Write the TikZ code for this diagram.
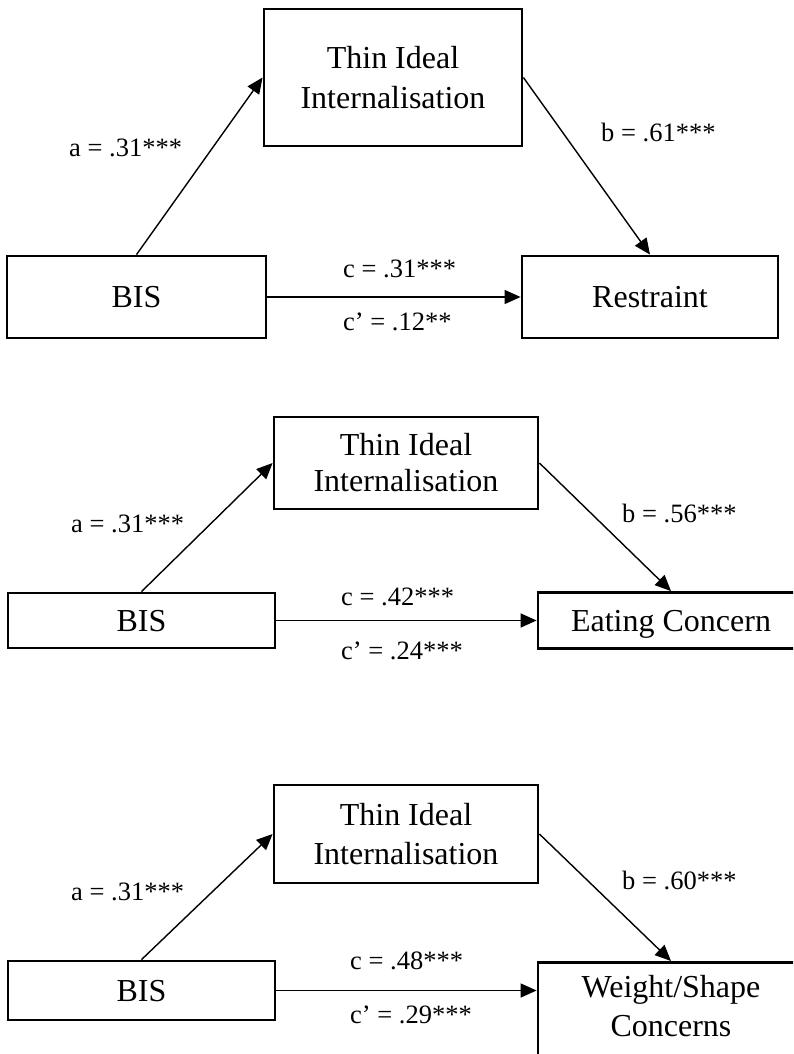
\documentclass[tikz,border=0pt]{standalone}
\usepackage{fontspec}
\setmainfont{Liberation Serif}
\usetikzlibrary{arrows.meta}
\begin{document}
\begin{tikzpicture}[x=1pt,y=-1pt,
  box/.style={draw, line width=2.8pt, inner sep=0pt, align=center,
              font=\fontsize{32}{39}\selectfont},
  oneline/.style={text height=21pt, text depth=0pt},
  coef/.style={anchor=base west, inner sep=0pt,
               font=\fontsize{26.5}{30}\selectfont},
  link/.style={line width=1.4pt, -{Triangle[length=16pt,width=14pt]}}
]
\useasboundingbox (0,0) rectangle (793,1054);
\fill[white] (0,0) rectangle (793,1054);
\clip (0,0) rectangle (793,1054);

% ---------- Restraint model ----------
\node[box, minimum width=258pt, minimum height=137pt,
      font=\fontsize{32}{40}\selectfont] (thin1) at (393,77.5)
      {Thin Ideal\\Internalisation};
\node[box, oneline, minimum width=259pt, minimum height=82pt] (bis1) at (136.5,297) {BIS};
\node[box, oneline, minimum width=256pt, minimum height=82pt] (res1) at (650,297) {Restraint};
\draw[link] (bis1.north) -- (thin1.west);
\draw[link] (thin1.east) -- (res1.north);
\draw[link] (bis1.east) -- (res1.west);
\node[coef] (a1) at (69,157) {a = .31***};
\node[coef] (b1) at (601,141) {b = .61***};
\node[coef] (c1) at (343,277) {c = .31***};
\node[coef] (cp1) at (343,330) {c’ = .12**};

% ---------- Eating Concern model ----------
\node[box, minimum width=264pt, minimum height=92pt,
      font=\fontsize{32}{36}\selectfont] (thin2) at (406,463)
      {Thin Ideal\\Internalisation};
\node[box, oneline, minimum width=267pt, minimum height=55pt] (bis2) at (141.5,620.5) {BIS};
\node[box, oneline, minimum width=266pt, minimum height=56pt] (eat2) at (671,620.5) {Eating Concern};
\draw[link] (bis2.north) -- (thin2.west);
\draw[link] (thin2.east) -- (eat2.north);
\draw[link] (bis2.east) -- (eat2.west);
\node[coef] (a2) at (71,532) {a = .31***};
\node[coef] (b2) at (622,522) {b = .56***};
\node[coef] (c2) at (341,605) {c = .42***};
\node[coef] (cp2) at (341,659) {c’ = .24***};

% ---------- Weight/Shape Concerns model ----------
\node[box, minimum width=264pt, minimum height=98pt] (thin3) at (406,834)
      {Thin Ideal\\Internalisation};
\node[box, oneline, minimum width=267pt, minimum height=59pt] (bis3) at (141.5,990.5) {BIS};
\node[box, minimum width=266pt, minimum height=140pt, anchor=north] (ws3) at (671,961) {};
\node[align=center, inner sep=0pt, font=\fontsize{32}{39}\selectfont] (wstext) at (671,1006)
      {Weight/Shape\\Concerns};
\draw[link] (bis3.north) -- (thin3.west);
\draw[link] (thin3.east) -- (ws3.north);
\draw[link] (bis3.east) -- (bis3.east -| ws3.west);
\node[coef] (a3) at (71,900) {a = .31***};
\node[coef] (b3) at (622,889) {b = .60***};
\node[coef] (c3) at (350,969) {c = .48***};
\node[coef] (cp3) at (350,1023) {c’ = .29***};
\end{tikzpicture}
\end{document}
